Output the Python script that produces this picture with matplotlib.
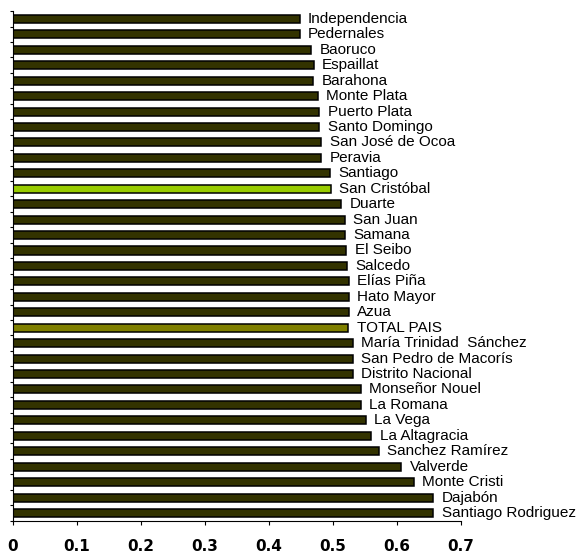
import matplotlib
matplotlib.use("Agg")
import matplotlib.pyplot as plt
import numpy as np

# provinces, ordered top to bottom as in the chart
provinces = [
    "Independencia", "Pedernales", "Baoruco", "Espaillat", "Barahona",
    "Monte Plata", "Puerto Plata", "Santo Domingo", "San José de Ocoa",
    "Peravia", "Santiago", "San Cristóbal", "Duarte", "San Juan", "Samana",
    "El Seibo", "Salcedo", "Elías Piña", "Hato Mayor", "Azua", "TOTAL PAIS",
    "María Trinidad  Sánchez", "San Pedro de Macorís", "Distrito Nacional",
    "Monseñor Nouel", "La Romana", "La Vega", "La Altagracia",
    "Sanchez Ramírez", "Valverde", "Monte Cristi", "Dajabón",
    "Santiago Rodriguez",
]
values = [
    0.448, 0.448, 0.466, 0.470, 0.469,
    0.476, 0.479, 0.479, 0.482,
    0.482, 0.495, 0.497, 0.513, 0.519, 0.519,
    0.521, 0.522, 0.525, 0.525, 0.525, 0.524,
    0.531, 0.531, 0.531,
    0.544, 0.544, 0.551, 0.560,
    0.572, 0.607, 0.626, 0.657,
    0.657,
]
highlight = {"San Cristóbal": "#99cc00", "TOTAL PAIS": "#808000"}
base_color = "#333300"

xticks = [0, 0.1, 0.2, 0.3, 0.4, 0.5, 0.6, 0.7]

fig = plt.figure(figsize=(5.87, 5.56), dpi=100)
ax = fig.add_axes([0.0221, 0.0635, 0.763, 0.9164])

y = np.arange(len(provinces))
colors = [highlight.get(p, base_color) for p in provinces]
ax.barh(y, values, height=0.52, color=colors, edgecolor="black", linewidth=1.1)

# labels just right of each bar
for yi, v, name in zip(y, values, provinces):
    ax.annotate(name, (v, yi), xytext=(6, 0), textcoords="offset points",
                va="center", ha="left", fontsize=11,
                family=["Liberation Sans", "DejaVu Sans"], annotation_clip=False)

ax.set_ylim(len(provinces) - 0.5, -0.5)
ax.set_xlim(0, 0.7)

# excel style: y ticks between categories, no labels
ax.set_yticks(np.arange(-0.5, len(provinces) + 0.5, 1))
ax.set_yticklabels([])
ax.tick_params(axis="y", direction="out", length=2, width=0.8)

ax.set_xticks(xticks)
ax.set_xticklabels([str(t) for t in xticks],
                   family=["DejaVu Sans Condensed", "Liberation Sans Narrow", "DejaVu Sans"],
                   fontweight="bold", fontsize=11)
ax.tick_params(axis="x", direction="out", length=3, width=0.8, pad=10)

for s in ["top", "right"]:
    ax.spines[s].set_visible(False)
for s in ["left", "bottom"]:
    ax.spines[s].set_linewidth(0.8)

fig.savefig("out.png", dpi=100)
